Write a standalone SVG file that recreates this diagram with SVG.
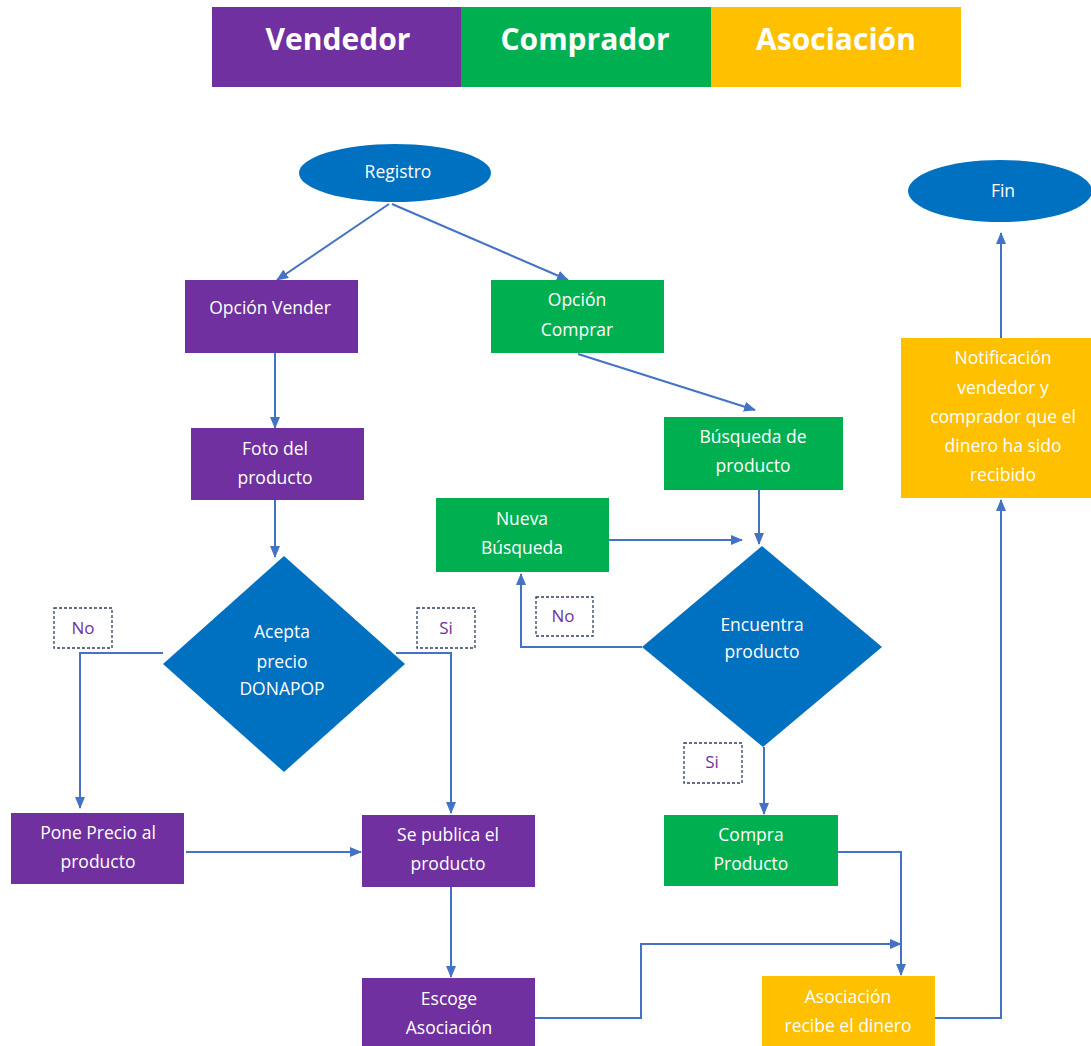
<svg xmlns="http://www.w3.org/2000/svg" width="1091" height="1046" viewBox="0 0 1091 1046">
<defs>
<marker id="arr" markerUnits="userSpaceOnUse" markerWidth="12" markerHeight="10" refX="11" refY="5" orient="auto">
<path d="M0,0 L12,5 L0,10 z" fill="#4472C4"/>
</marker>
<style>
.t{font-family:"Open Sans","Liberation Sans",sans-serif;font-size:17.5px;fill:#fff;text-anchor:middle}
.h{font-family:"Open Sans","Liberation Sans",sans-serif;font-size:30px;font-weight:bold;fill:#fff;text-anchor:middle}
.lbl{font-family:"Open Sans","Liberation Sans",sans-serif;font-size:17px;fill:#7030A0;text-anchor:middle}
.lb{fill:#fff;stroke:#2F3F66;stroke-width:1.3;stroke-dasharray:3,2}
.pu{fill:#7030A0}.gr{fill:#00B050}.ye{fill:#FFC000}.bl{fill:#0070C0}
.c{fill:none;stroke:#4472C4;stroke-width:2;marker-end:url(#arr)}
</style>
</defs>
<rect width="1091" height="1046" fill="#fff"/>
<g id="header">
<rect x="212" y="7" width="250" height="80" class="pu"/>
<rect x="461" y="7" width="250" height="80" class="gr"/>
<rect x="711" y="7" width="250" height="80" class="ye"/>
<text x="338" y="50" class="h">Vendedor</text>
<text x="585" y="50" class="h">Comprador</text>
<text x="836" y="50" class="h">Asociación</text>
</g>
<g id="connectors">
<path class="c" d="M389,204 L277,280"/>
<path class="c" d="M392,204 L568,280"/>
<path class="c" d="M275,353 V428"/>
<path class="c" d="M275,500 V557"/>
<path class="c" d="M163,653 H80 V808"/>
<path class="c" d="M396,653 H451 V813"/>
<path class="c" d="M186,852 H361"/>
<path class="c" d="M451,887 V977"/>
<path class="c" d="M535,1018 H641 V944 H901"/>
<path class="c" d="M578,354 L755,410"/>
<path class="c" d="M759,490 V544"/>
<path class="c" d="M609,540 H742"/>
<path class="c" d="M642,647 H521 V574"/>
<path class="c" d="M764,747 V814"/>
<path class="c" d="M828,852 H901 V975"/>
<path class="c" d="M935,1018 H1001 V500"/>
<path class="c" d="M1001,338 V233"/>
</g>
<g id="registro">
<ellipse cx="395" cy="173" rx="96" ry="29" class="bl"/>
<text x="398" y="178" class="t">Registro</text>
</g>
<g id="fin">
<ellipse cx="1000" cy="191" rx="92" ry="31" class="bl"/>
<text x="1003" y="197" class="t">Fin</text>
</g>
<g id="opcion-vender">
<rect x="185" y="280" width="173" height="73" class="pu"/>
<text x="270" y="314" class="t">Opción Vender</text>
</g>
<g id="opcion-comprar">
<rect x="491" y="280" width="173" height="73" class="gr"/>
<text x="577" y="306" class="t">Opción</text>
<text x="577" y="336" class="t">Comprar</text>
</g>
<g id="foto">
<rect x="191" y="428" width="173" height="72" class="pu"/>
<text x="275" y="455" class="t">Foto del</text>
<text x="275" y="484" class="t">producto</text>
</g>
<g id="acepta">
<polygon points="284,556 405,664 284,772 163,664" class="bl"/>
<text x="282" y="638" class="t">Acepta</text>
<text x="282" y="668" class="t">precio</text>
<text x="282" y="695" class="t">DONAPOP</text>
</g>
<g id="label-no-1">
<rect x="54" y="608" width="58" height="40" class="lb"/>
<text x="83" y="634" class="lbl">No</text>
</g>
<g id="label-si-1">
<rect x="417" y="608" width="58" height="40" class="lb"/>
<text x="446" y="634" class="lbl">Si</text>
</g>
<g id="pone-precio">
<rect x="11" y="813" width="173" height="71" class="pu"/>
<text x="98" y="839" class="t">Pone Precio al</text>
<text x="98" y="868" class="t">producto</text>
</g>
<g id="se-publica">
<rect x="362" y="815" width="173" height="72" class="pu"/>
<text x="448" y="841" class="t">Se publica el</text>
<text x="448" y="870" class="t">producto</text>
</g>
<g id="escoge">
<rect x="362" y="978" width="173" height="72" class="pu"/>
<text x="449" y="1005" class="t">Escoge</text>
<text x="449" y="1034" class="t">Asociación</text>
</g>
<g id="busqueda">
<rect x="664" y="417" width="179" height="73" class="gr"/>
<text x="753" y="443" class="t">Búsqueda de</text>
<text x="753" y="472" class="t">producto</text>
</g>
<g id="nueva-busqueda">
<rect x="436" y="498" width="173" height="74" class="gr"/>
<text x="522" y="525" class="t">Nueva</text>
<text x="522" y="554" class="t">Búsqueda</text>
</g>
<g id="encuentra">
<polygon points="762,546 882,647 763,747 642,647" class="bl"/>
<text x="762" y="631" class="t">Encuentra</text>
<text x="762" y="658" class="t">producto</text>
</g>
<g id="label-no-2">
<rect x="536" y="597" width="57" height="39" class="lb"/>
<text x="563" y="622" class="lbl">No</text>
</g>
<g id="label-si-2">
<rect x="684" y="743" width="58" height="40" class="lb"/>
<text x="712" y="768" class="lbl">Si</text>
</g>
<g id="compra">
<rect x="664" y="815" width="174" height="71" class="gr"/>
<text x="751" y="841" class="t">Compra</text>
<text x="751" y="870" class="t">Producto</text>
</g>
<g id="asociacion-recibe">
<rect x="762" y="976" width="173" height="74" class="ye"/>
<text x="848" y="1003" class="t">Asociación</text>
<text x="848" y="1032" class="t">recibe el dinero</text>
</g>
<g id="notificacion">
<rect x="901" y="338" width="194" height="160" class="ye"/>
<text x="1003" y="364" class="t">Notificación</text>
<text x="1003" y="394" class="t">vendedor y</text>
<text x="1003" y="423" class="t">comprador que el</text>
<text x="1003" y="452" class="t">dinero ha sido</text>
<text x="1003" y="481" class="t">recibido</text>
</g>
</svg>
